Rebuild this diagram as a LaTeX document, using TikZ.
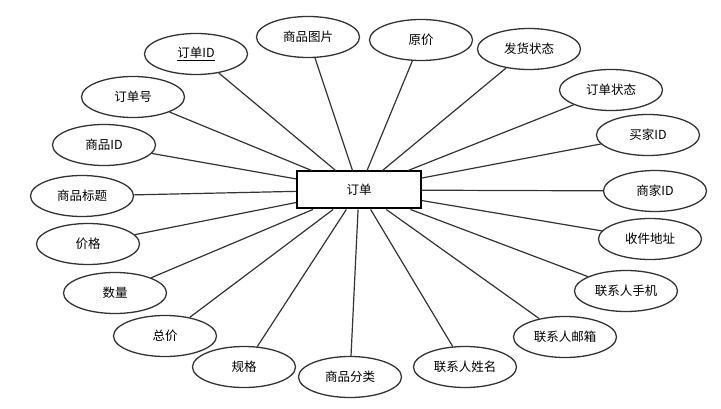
\documentclass[tikz,border=0pt]{standalone}
\usepackage{fontspec}
\setmainfont{Noto Sans CJK SC}
\usetikzlibrary{shapes.geometric}

\begin{document}
\begin{tikzpicture}[
    x=1pt, y=-1pt,
    entity/.style={
        rectangle,
        draw=black,
        line width=2pt,
        minimum width=124pt,
        minimum height=37pt,
        font=\fontsize{12.5}{14}\selectfont
    },
    attr/.style={
        ellipse,
        draw=black!80,
        line width=1.3pt,
        inner sep=0pt,
        minimum width=103pt,
        minimum height=41pt,
        font=\fontsize{12.5}{14}\selectfont
    },
    link/.style={
        draw=black!80,
        line width=1.2pt
    }
]
    \useasboundingbox (0,0) rectangle (721,409);

    % -- Entity --
    \node[entity] (order) at (359,190) {订单};

    % -- Attributes, left side --
    \node[attr] (oid)    at (196,54)  {\underline{订单ID}};
    \node[attr] (ono)    at (133,97)  {订单号};
    \node[attr] (gid)    at (104,145) {商品ID};
    \node[attr] (gtitle) at (82,196)  {商品标题};
    \node[attr] (price)  at (88,244)  {价格};
    \node[attr] (qty)    at (115,293) {数量};
    \node[attr] (total)  at (165,336) {总价};
    \node[attr] (spec)   at (244,367) {规格};
    \node[attr] (cat)    at (350,377) {商品分类};

    % -- Attributes, top --
    \node[attr] (gpic)   at (308,37)  {商品图片};
    \node[attr] (oprice) at (421,40)  {原价};
    \node[attr] (ship)   at (529,49)  {发货状态};

    % -- Attributes, right side --
    \node[attr] (ostate) at (611,90)  {订单状态};
    \node[attr] (buyer)  at (648,135) {买家ID};
    \node[attr] (seller) at (655,191) {商家ID};
    \node[attr] (addr)   at (650,239) {收件地址};
    \node[attr] (phone)  at (626,291) {联系人手机};
    \node[attr] (mail)   at (565,337) {联系人邮箱};
    \node[attr] (cname)  at (465,367) {联系人姓名};

    % Connect every attribute to the entity
    \draw[link] (order) -- (oid);
    \draw[link] (order) -- (ono);
    \draw[link] (order) -- (gid);
    \draw[link] (order) -- (gtitle);
    \draw[link] (order) -- (price);
    \draw[link] (order) -- (qty);
    \draw[link] (order) -- (total);
    \draw[link] (order) -- (spec);
    \draw[link] (order) -- (cat);
    \draw[link] (order) -- (gpic);
    \draw[link] (order) -- (oprice);
    \draw[link] (order) -- (ship);
    \draw[link] (order) -- (ostate);
    \draw[link] (order) -- (buyer);
    \draw[link] (order) -- (seller);
    \draw[link] (order) -- (addr);
    \draw[link] (order) -- (phone);
    \draw[link] (order) -- (mail);
    \draw[link] (order) -- (cname);

\end{tikzpicture}
\end{document}
